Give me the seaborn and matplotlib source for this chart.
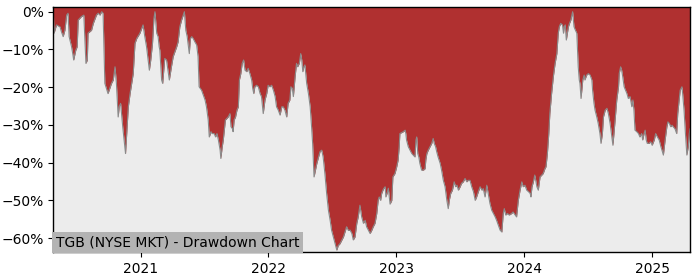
import pandas as pd
import matplotlib
matplotlib.use("Agg")
import matplotlib.pyplot as plt
import matplotlib.dates as mdates
from matplotlib.ticker import FuncFormatter
import seaborn as sns

title_text = "TGB (NYSE MKT) - Drawdown Chart"

dates = [
    "2020-04-27", "2020-04-29", "2020-05-06", "2020-05-16", "2020-05-20", "2020-05-25", "2020-05-30",
    "2020-06-04", "2020-06-08", "2020-06-11", "2020-06-18", "2020-06-22", "2020-06-24", "2020-06-30",
    "2020-07-04", "2020-07-07", "2020-07-16", "2020-07-23", "2020-07-26", "2020-07-29",
    "2020-08-02", "2020-08-04", "2020-08-14", "2020-08-19", "2020-08-28",
    "2020-09-02", "2020-09-07", "2020-09-12", "2020-09-16", "2020-09-21", "2020-09-30",
    "2020-10-10", "2020-10-15", "2020-10-20", "2020-10-24", "2020-10-29",
    "2020-11-01", "2020-11-05", "2020-11-11", "2020-11-19", "2020-11-27",
    "2020-12-02", "2020-12-11", "2020-12-16", "2020-12-21", "2020-12-30",
    "2021-01-08", "2021-01-13", "2021-01-18", "2021-01-26", "2021-01-30",
    "2021-02-04", "2021-02-08", "2021-02-11", "2021-02-16", "2021-02-20", "2021-02-23", "2021-02-25",
    "2021-03-02", "2021-03-05", "2021-03-11", "2021-03-16", "2021-03-24", "2021-03-30",
    "2021-04-04", "2021-04-14", "2021-04-18", "2021-04-23", "2021-04-28",
    "2021-05-06", "2021-05-10", "2021-05-14", "2021-05-20", "2021-05-23", "2021-05-27", "2021-05-31",
    "2021-06-05", "2021-06-10", "2021-06-14", "2021-06-17", "2021-06-24", "2021-06-29",
    "2021-07-04", "2021-07-08", "2021-07-13", "2021-07-16", "2021-07-21", "2021-07-24", "2021-07-30",
    "2021-08-03", "2021-08-07", "2021-08-11", "2021-08-16", "2021-08-18", "2021-08-22", "2021-08-25",
    "2021-08-28", "2021-08-31",
    "2021-09-04", "2021-09-08", "2021-09-13", "2021-09-16", "2021-09-20", "2021-09-22", "2021-09-25",
    "2021-09-29",
    "2021-10-03", "2021-10-07", "2021-10-10", "2021-10-14", "2021-10-18", "2021-10-22", "2021-10-26",
    "2021-10-31",
    "2021-11-04", "2021-11-09", "2021-11-14", "2021-11-17", "2021-11-20", "2021-11-23", "2021-11-28",
    "2021-12-03", "2021-12-08", "2021-12-12", "2021-12-17", "2021-12-22", "2021-12-27", "2021-12-31",
    "2022-01-05", "2022-01-10", "2022-01-15", "2022-01-20", "2022-01-24", "2022-01-29",
    "2022-02-03", "2022-02-08", "2022-02-12", "2022-02-17", "2022-02-22", "2022-02-26",
    "2022-03-03", "2022-03-06", "2022-03-10", "2022-03-13", "2022-03-18", "2022-03-22", "2022-03-25",
    "2022-03-30",
    "2022-04-03", "2022-04-06", "2022-04-09", "2022-04-12", "2022-04-15", "2022-04-20", "2022-04-25",
    "2022-04-30",
    "2022-05-04", "2022-05-07", "2022-05-11", "2022-05-19", "2022-05-28",
    "2022-06-02", "2022-06-06", "2022-06-11", "2022-06-16", "2022-06-21", "2022-06-26", "2022-06-30",
    "2022-07-05", "2022-07-10", "2022-07-15", "2022-07-19", "2022-07-24",
    "2022-08-03", "2022-08-12", "2022-08-17", "2022-08-22", "2022-08-27", "2022-08-31",
    "2022-09-05", "2022-09-10", "2022-09-14", "2022-09-19", "2022-09-24", "2022-09-29",
    "2022-10-04", "2022-10-08", "2022-10-13", "2022-10-18", "2022-10-23", "2022-10-27",
    "2022-11-01", "2022-11-06", "2022-11-10", "2022-11-13", "2022-11-17", "2022-11-20", "2022-11-25",
    "2022-11-30",
    "2022-12-02", "2022-12-06", "2022-12-09", "2022-12-14", "2022-12-19", "2022-12-22", "2022-12-28",
    "2023-01-02", "2023-01-06", "2023-01-09", "2023-01-11", "2023-01-21", "2023-01-26", "2023-01-28",
    "2023-01-30",
    "2023-02-04", "2023-02-09", "2023-02-14", "2023-02-18", "2023-02-23", "2023-02-26", "2023-02-28",
    "2023-03-03", "2023-03-06", "2023-03-09", "2023-03-14", "2023-03-19", "2023-03-24", "2023-03-26",
    "2023-03-29",
    "2023-04-02", "2023-04-07", "2023-04-12", "2023-04-16", "2023-04-19", "2023-04-23", "2023-04-26",
    "2023-04-30",
    "2023-05-06", "2023-05-10", "2023-05-15", "2023-05-20", "2023-05-25", "2023-05-29",
    "2023-06-01", "2023-06-05", "2023-06-10", "2023-06-15", "2023-06-19", "2023-06-23", "2023-06-27",
    "2023-07-02", "2023-07-06", "2023-07-11", "2023-07-16", "2023-07-21", "2023-07-25", "2023-07-30",
    "2023-08-04", "2023-08-09", "2023-08-14", "2023-08-18", "2023-08-23", "2023-08-28",
    "2023-09-02", "2023-09-06", "2023-09-11", "2023-09-16", "2023-09-20", "2023-09-25", "2023-09-30",
    "2023-10-05", "2023-10-10", "2023-10-14", "2023-10-19", "2023-10-24", "2023-10-29",
    "2023-11-02", "2023-11-05", "2023-11-09", "2023-11-14", "2023-11-19", "2023-11-26", "2023-11-30",
    "2023-12-06", "2023-12-10", "2023-12-15", "2023-12-20", "2023-12-25", "2023-12-29",
    "2024-01-03", "2024-01-08", "2024-01-13", "2024-01-18", "2024-01-20", "2024-01-23", "2024-01-27",
    "2024-01-31",
    "2024-02-06", "2024-02-10", "2024-02-15", "2024-02-20", "2024-02-24", "2024-02-29",
    "2024-03-03", "2024-03-07", "2024-03-11", "2024-03-14", "2024-03-19", "2024-03-24", "2024-03-29",
    "2024-04-03", "2024-04-07", "2024-04-10", "2024-04-14", "2024-04-19", "2024-04-22", "2024-04-24",
    "2024-04-27", "2024-04-30",
    "2024-05-03", "2024-05-06", "2024-05-09", "2024-05-13", "2024-05-16", "2024-05-18", "2024-05-22",
    "2024-05-26", "2024-05-30",
    "2024-06-03", "2024-06-06", "2024-06-08", "2024-06-11", "2024-06-16", "2024-06-20", "2024-06-22",
    "2024-06-27",
    "2024-07-02", "2024-07-07", "2024-07-12", "2024-07-14", "2024-07-18", "2024-07-21", "2024-07-26",
    "2024-07-30",
    "2024-08-04", "2024-08-07", "2024-08-11", "2024-08-14", "2024-08-19", "2024-08-24", "2024-08-28",
    "2024-09-02", "2024-09-07", "2024-09-10", "2024-09-13", "2024-09-17", "2024-09-21", "2024-09-26",
    "2024-09-28",
    "2024-10-02", "2024-10-05", "2024-10-08", "2024-10-12", "2024-10-16", "2024-10-20", "2024-10-24",
    "2024-10-29",
    "2024-11-03", "2024-11-06", "2024-11-09", "2024-11-12", "2024-11-17", "2024-11-22", "2024-11-26",
    "2024-12-01", "2024-12-04", "2024-12-08", "2024-12-11", "2024-12-14", "2024-12-17", "2024-12-22",
    "2024-12-27", "2024-12-31",
    "2025-01-06", "2025-01-10", "2025-01-15", "2025-01-20", "2025-01-25", "2025-01-28",
    "2025-02-01", "2025-02-06", "2025-02-11", "2025-02-14", "2025-02-18", "2025-02-22", "2025-02-26",
    "2025-03-01", "2025-03-06", "2025-03-11", "2025-03-14", "2025-03-18", "2025-03-21", "2025-03-26",
    "2025-03-28",
    "2025-04-01", "2025-04-05", "2025-04-09", "2025-04-13", "2025-04-16", "2025-04-18",
]

drawdown = [
    0.0, -5.7, -3.5, -4.0, -5.3, -6.6, -4.9,
    -0.9, -0.4, -6.6, -9.3, -11.5, -12.8, -10.2,
    -9.3, -2.2, -1.3, -0.9, -7.5, -13.7,
    -12.8, -5.7, -4.9, -3.1, -0.9,
    -0.4, -0.9, 0.0, -0.4, -19.0, -21.7,
    -19.0, -18.1, -14.6, -19.0, -27.9,
    -25.2, -24.3, -30.5, -37.6, -25.2,
    -21.7, -16.4, -8.4, -7.1, -5.7,
    -3.5, -6.6, -9.3, -15.5, -12.8,
    -8.4, -1.8, 0.0, -5.7, -6.6, -9.3, -10.2,
    -18.1, -19.0, -12.4, -12.8, -18.1, -14.6,
    -11.9, -9.3, -8.0, -4.0, -2.2,
    0.0, -4.9, -6.6, -11.1, -7.1, -6.6, -7.1,
    -8.0, -8.8, -11.9, -19.9, -20.8, -22.1,
    -23.4, -25.2, -28.7, -33.2, -31.8, -32.3, -32.3,
    -33.2, -32.3, -34.0, -36.7, -38.9, -35.8, -34.0,
    -31.4, -28.7,
    -28.3, -27.9, -27.0, -30.5, -31.0, -31.8, -28.7,
    -27.9,
    -26.1, -25.2, -18.1, -16.4, -13.7, -12.8, -15.5,
    -15.9,
    -15.0, -16.4, -18.1, -20.3, -21.7, -19.9, -19.5,
    -19.9, -21.7, -22.5, -27.0, -23.4, -21.7, -19.5,
    -19.9, -19.5, -20.8, -22.5, -25.2, -26.1,
    -27.4, -25.2, -25.2, -26.1, -27.9, -24.3,
    -23.4, -19.9, -20.3, -22.5, -17.2, -13.7, -14.6,
    -13.7,
    -11.1, -12.8, -15.9, -14.6, -14.1, -19.0, -21.7,
    -25.2,
    -30.5, -34.9, -43.8, -40.2, -37.1,
    -36.7, -38.5, -42.9, -48.2, -52.6, -55.3, -57.9,
    -59.7, -61.5, -63.2, -62.0, -61.5,
    -59.7, -57.0, -58.0, -57.9, -58.8, -60.5,
    -59.7, -56.1, -54.4, -51.3, -54.4, -56.1,
    -55.3, -57.0, -57.9, -58.8, -57.9, -57.0,
    -56.1, -53.5, -50.0, -49.1, -50.0, -48.2, -47.0,
    -46.4,
    -49.1, -48.0, -46.8, -51.0, -50.0, -43.8, -42.9,
    -41.1, -39.3, -35.8, -32.3, -31.8, -31.4, -32.3,
    -34.0,
    -35.8, -36.7, -37.6, -38.0, -38.5, -34.0, -33.2,
    -37.6, -38.5, -40.2, -42.0, -42.0, -41.6, -39.3,
    -37.6,
    -36.7, -35.8, -34.9, -33.6, -34.9, -35.8, -37.1,
    -38.5,
    -40.2, -42.0, -44.7, -46.4, -50.0, -52.2,
    -50.0, -48.2, -47.3, -45.1, -46.4, -46.0, -47.3,
    -46.4, -45.5, -45.1, -44.2, -45.1, -44.7, -44.7,
    -46.4, -47.7, -50.0, -49.1, -47.7, -46.4,
    -47.3, -46.9, -49.1, -46.0, -48.2, -50.8, -52.6,
    -53.5, -54.4, -55.3, -56.6, -57.9, -58.4,
    -53.5, -52.2, -53.9, -53.5, -53.9, -53.5, -53.1,
    -53.9, -54.4, -50.0, -47.3, -45.1, -46.4,
    -46.0, -47.3, -47.7, -48.2, -49.1, -46.4, -45.1,
    -43.3,
    -46.4, -47.3, -43.8, -43.3, -42.9, -41.6,
    -41.1, -37.6, -32.3, -27.0, -21.7, -17.2, -13.7,
    -11.1, -5.7, -4.0, -3.1, -3.5, -5.7, -4.0,
    -3.5, -7.5,
    -5.7, -4.0, -3.1, -2.2, -0.9, 0.0, -4.0,
    -4.9, -5.7,
    -14.6, -18.1, -19.0, -23.0, -18.1, -16.8, -18.1,
    -16.8,
    -16.4, -16.8, -18.1, -20.8, -24.3, -26.1, -27.9,
    -29.6,
    -32.3, -34.9, -32.3, -27.9, -26.1, -25.6, -27.0,
    -29.6, -33.2, -35.4, -32.3, -27.9, -23.4, -19.9,
    -16.4,
    -14.6, -15.5, -17.2, -19.9, -20.8, -21.7, -23.0,
    -22.5,
    -25.2, -23.4, -26.1, -31.4, -31.8, -32.3, -33.2,
    -32.3, -34.0, -32.3, -31.4, -34.0, -34.9, -34.9,
    -34.5, -35.4,
    -34.0, -32.3, -33.2, -34.0, -35.8, -36.7,
    -38.0, -34.0, -30.5, -29.2, -29.6, -30.5, -30.1,
    -30.5, -31.0, -32.3, -27.0, -23.4, -20.8, -19.9,
    -21.7,
    -26.1, -32.3, -38.0, -35.8, -32.3, -31.0,
]

df = pd.DataFrame({"date": pd.to_datetime(dates), "drawdown": drawdown})

sns.set_style("white")
plt.rcParams.update({
    "font.family": ["DejaVu Sans"],
    "font.size": 10,
    "xtick.bottom": True,
    "ytick.left": True,
    "xtick.major.size": 3.5,
    "ytick.major.size": 3.5,
    "xtick.color": "black",
    "ytick.color": "black",
    "axes.edgecolor": "black",
    "axes.linewidth": 1.0,
})

y_bottom, y_top = -63.7, 1.25

fig = plt.figure(figsize=(7, 2.8), dpi=100)
ax = fig.add_axes([0.0762, 0.1, 0.9095, 0.875])
ax.set_facecolor("#ececec")

ax.fill_between(df["date"], df["drawdown"], y_top, color="#b03030", linewidth=0)
sns.lineplot(data=df, x="date", y="drawdown", ax=ax, color="#8a8a8a", linewidth=0.8)

ax.set_xlim(pd.Timestamp("2020-04-27"), pd.Timestamp("2025-04-18"))
ax.set_ylim(y_bottom, y_top)
ax.set_yticks([0, -10, -20, -30, -40, -50, -60])
ax.yaxis.set_major_formatter(FuncFormatter(lambda v, p: f"{v:.0f}%".replace("-", "\u2212")))
ax.xaxis.set_major_locator(mdates.YearLocator())
ax.xaxis.set_major_formatter(mdates.DateFormatter("%Y"))
ax.tick_params(labelsize=10, pad=3.5)
ax.set_xlabel("")
ax.set_ylabel("")
for s in ax.spines.values():
    s.set_visible(True)
    s.set_color("black")

ax.text(0.004, 0.012, title_text, transform=ax.transAxes, ha="left", va="bottom",
        fontsize=10, color="black",
        bbox=dict(facecolor="#b3b3b3", edgecolor="none", pad=2.5))

fig.savefig("out.png", dpi=100)
